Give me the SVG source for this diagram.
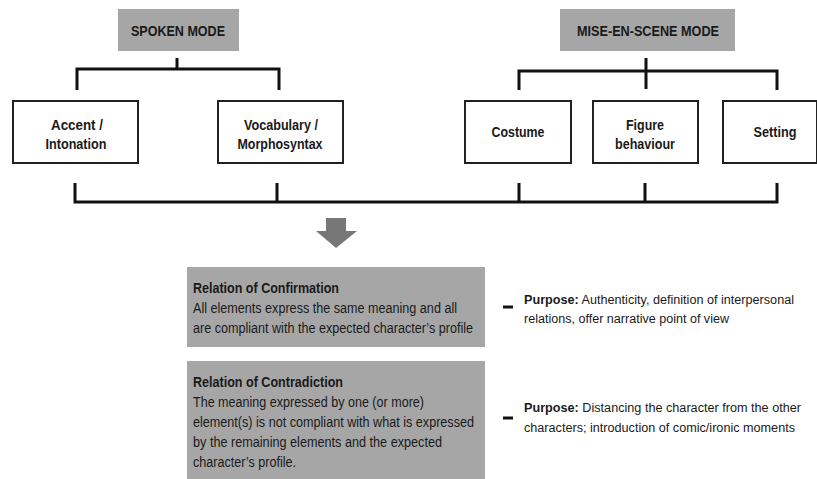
<svg xmlns="http://www.w3.org/2000/svg" width="817" height="479" viewBox="0 0 817 479">
<style>
text{font-family:"Liberation Sans",Arial,sans-serif;fill:#1a1a1a;font-size:14px}
.b{font-weight:bold}
.n{font-size:15.5px}
.p{font-size:12.5px}
.mode{fill:#a6a6a6}
.box{fill:#fff;stroke:#222;stroke-width:2}
.rel{fill:#a6a6a6}
.c line,.c polyline{stroke:#111;stroke-width:3;fill:none}
.mid{text-anchor:middle}
</style>
<rect width="817" height="479" fill="#fff"/>
<g class="c" id="connectors">
<line x1="177" y1="58" x2="177" y2="69"/>
<polyline points="77,90 77,69 279,69 279,90"/>
<line x1="646" y1="58" x2="646" y2="89"/>
<polyline points="519,90 519,71 777,71 777,90"/>
<polyline points="75,183 75,202 777,202 777,183"/>
<line x1="277" y1="183" x2="277" y2="202"/>
<line x1="519" y1="183" x2="519" y2="202"/>
<line x1="645" y1="183" x2="645" y2="202"/>
<polygon points="326,218 346,218 346,231 357,231 336,248 316,231 326,231" fill="#777" stroke="none"/>
</g>
<g id="spoken-mode">
<rect class="mode" x="118" y="9" width="121" height="42"/>
<text class="b n mid" x="178" y="36" textLength="94" lengthAdjust="spacingAndGlyphs">SPOKEN MODE</text>
</g>
<g id="mise-en-scene-mode">
<rect class="mode" x="560" y="9" width="175" height="42"/>
<text class="b n mid" x="648" y="36" textLength="142" lengthAdjust="spacingAndGlyphs">MISE-EN-SCENE MODE</text>
</g>
<g id="accent">
<rect class="box" x="13" y="101" width="125" height="62"/>
<text class="b n mid" x="77" y="130" textLength="52" lengthAdjust="spacingAndGlyphs">Accent /</text>
<text class="b n mid" x="76" y="149" textLength="61" lengthAdjust="spacingAndGlyphs">Intonation</text>
</g>
<g id="vocabulary">
<rect class="box" x="218" y="101" width="125" height="62"/>
<text class="b n mid" x="281" y="130" textLength="74" lengthAdjust="spacingAndGlyphs">Vocabulary /</text>
<text class="b n mid" x="280" y="149" textLength="85" lengthAdjust="spacingAndGlyphs">Morphosyntax</text>
</g>
<g id="costume">
<rect class="box" x="465" y="101" width="106" height="62"/>
<text class="b n mid" x="518" y="137" textLength="53" lengthAdjust="spacingAndGlyphs">Costume</text>
</g>
<g id="figure-behaviour">
<rect class="box" x="593" y="101" width="105" height="62"/>
<text class="b n mid" x="645" y="130" textLength="38" lengthAdjust="spacingAndGlyphs">Figure</text>
<text class="b n mid" x="645" y="149" textLength="60" lengthAdjust="spacingAndGlyphs">behaviour</text>
</g>
<g id="setting">
<rect class="box" x="723" y="101" width="94" height="62"/>
<text class="b n mid" x="775" y="137" textLength="43" lengthAdjust="spacingAndGlyphs">Setting</text>
</g>
<g id="confirmation">
<rect class="rel" x="187" y="267" width="298" height="80"/>
<text class="b" x="193" y="293" textLength="146" lengthAdjust="spacingAndGlyphs">Relation of Confirmation</text>
<text x="193" y="313" textLength="264" lengthAdjust="spacingAndGlyphs">All elements express the same meaning and all</text>
<text x="193" y="333" textLength="280" lengthAdjust="spacingAndGlyphs">are compliant with the expected character’s profile</text>
</g>
<g id="contradiction">
<rect class="rel" x="187" y="361" width="298" height="120"/>
<text class="b" x="193" y="387" textLength="150" lengthAdjust="spacingAndGlyphs">Relation of Contradiction</text>
<text x="193" y="407" textLength="231" lengthAdjust="spacingAndGlyphs">The meaning expressed by one (or more)</text>
<text x="193" y="427" textLength="281" lengthAdjust="spacingAndGlyphs">element(s) is not compliant with what is expressed</text>
<text x="193" y="447" textLength="249" lengthAdjust="spacingAndGlyphs">by the remaining elements and the expected</text>
<text x="193" y="467" textLength="103" lengthAdjust="spacingAndGlyphs">character’s profile.</text>
</g>
<g id="purpose-confirmation">
<line x1="503" y1="307" x2="513" y2="307" stroke="#111" stroke-width="3"/>
<text class="p" x="524" y="304" textLength="270" lengthAdjust="spacingAndGlyphs"><tspan class="b">Purpose:</tspan> Authenticity, definition of interpersonal</text>
<text class="p" x="524" y="323" textLength="205" lengthAdjust="spacingAndGlyphs">relations, offer narrative point of view</text>
</g>
<g id="purpose-contradiction">
<line x1="503" y1="418" x2="513" y2="418" stroke="#111" stroke-width="3"/>
<text class="p" x="524" y="412" textLength="277" lengthAdjust="spacingAndGlyphs"><tspan class="b">Purpose:</tspan> Distancing the character from the other</text>
<text class="p" x="524" y="432" textLength="271" lengthAdjust="spacingAndGlyphs">characters; introduction of comic/ironic moments</text>
</g>
</svg>
